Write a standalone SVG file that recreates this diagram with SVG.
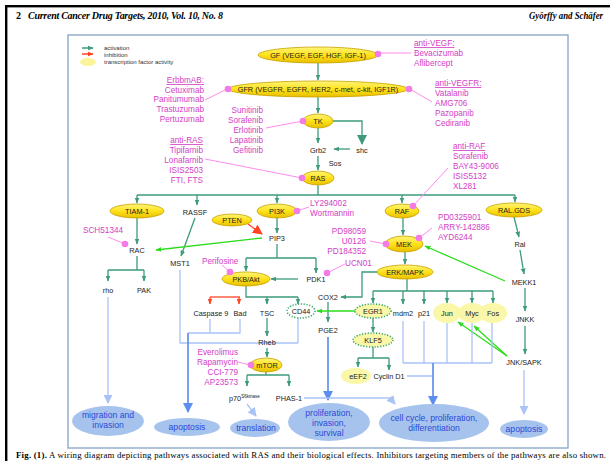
<svg xmlns="http://www.w3.org/2000/svg" width="610" height="461" viewBox="0 0 610 461">
<style>
.n{font-family:"Liberation Sans",Arial,sans-serif;font-size:7.3px;fill:#222;text-anchor:middle}
.p{font-family:"Liberation Sans",Arial,sans-serif;font-size:8.2px;fill:#d43ec6}
.e{text-anchor:end}
.u{text-decoration:underline}
.b{font-family:"Liberation Sans",Arial,sans-serif;font-size:8.6px;fill:#2b49d6;text-anchor:middle}
.y{fill:url(#yg);stroke:#c7a200;stroke-width:0.8}
.ly{fill:#fbf7a8;stroke:none}
.dt{stroke:#3aa86a;stroke-width:1.6;stroke-dasharray:1.2 1.6}
.g{fill:none;stroke:#3d9b7b;stroke-width:1.3}
.gb{fill:none;stroke:#2ddc1e;stroke-width:1.3}
.r{fill:none;stroke:#ff4422;stroke-width:1.3}
.pk{fill:none;stroke:#ff8cef;stroke-width:1}
.dot{fill:#f27be6}
.lb{fill:none;stroke:#a9c3f7;stroke-width:1.3}
.mb{fill:none;stroke:#6a96ee;stroke-width:1.8}
.oc{fill:#a6c3ee}
</style>
<defs>
<linearGradient id="yg" x1="0" y1="0" x2="0" y2="1">
<stop offset="0" stop-color="#fff57a"/><stop offset="0.5" stop-color="#ffe21a"/><stop offset="1" stop-color="#e8be00"/>
</linearGradient>
<marker id="ag" viewBox="0 0 10 10" refX="9" refY="5" markerWidth="6" markerHeight="6" markerUnits="userSpaceOnUse" orient="auto"><path d="M0,1 L10,5 L0,9 z" fill="#3d9b7b"/></marker>
<marker id="agL" viewBox="0 0 10 10" refX="9" refY="5" markerWidth="10" markerHeight="10" markerUnits="userSpaceOnUse" orient="auto"><path d="M0,0 L10,5 L0,10 z" fill="#3d9b7b"/></marker>
<marker id="ab" viewBox="0 0 10 10" refX="9" refY="5" markerWidth="6" markerHeight="6" markerUnits="userSpaceOnUse" orient="auto"><path d="M0,1 L10,5 L0,9 z" fill="#2ddc1e"/></marker>
<marker id="ar" viewBox="0 0 10 10" refX="9" refY="5" markerWidth="6" markerHeight="6" markerUnits="userSpaceOnUse" orient="auto"><path d="M0,1 L10,5 L0,9 z" fill="#ff4422"/></marker>
<marker id="arL" viewBox="0 0 10 10" refX="9" refY="5" markerWidth="10" markerHeight="10" markerUnits="userSpaceOnUse" orient="auto"><path d="M0,0 L10,5 L0,10 z" fill="#ff4422"/></marker>
<marker id="alb" viewBox="0 0 10 10" refX="9" refY="5" markerWidth="9" markerHeight="9" markerUnits="userSpaceOnUse" orient="auto"><path d="M0,0 L10,5 L0,10 z" fill="#a9c3f7"/></marker>
<marker id="amb" viewBox="0 0 10 10" refX="9" refY="5" markerWidth="10" markerHeight="10" markerUnits="userSpaceOnUse" orient="auto"><path d="M0,0 L10,5 L0,10 z" fill="#5b8ef0"/></marker>
</defs>
<rect width="610" height="461" fill="#fff"/>
<g id="page">
<rect x="5" y="5" width="605" height="2.4" fill="#000"/>
<rect x="5" y="5" width="2.4" height="456" fill="#000"/>
<text x="16" y="19" font-family="Liberation Serif,serif" font-weight="bold" font-size="10">2</text>
<text x="28" y="19" font-family="Liberation Serif,serif" font-weight="bold" font-style="italic" font-size="10" textLength="195">Current Cancer Drug Targets, 2010, Vol. 10, No. 8</text>
<text x="529" y="19" font-family="Liberation Serif,serif" font-weight="bold" font-style="italic" font-size="9.5" textLength="74" lengthAdjust="spacingAndGlyphs">Györffy and Schäfer</text>
<rect x="68" y="35" width="500" height="413" fill="none" stroke="#87a3c3" stroke-width="1.3"/>
<text x="16" y="458" font-family="Liberation Serif,serif" font-size="8.8" textLength="590"><tspan font-weight="bold">Fig. (1).</tspan> A wiring diagram depicting pathways associated with RAS and their biological effects. Inhibitors targeting members of the pathways are also shown.</text>
</g>
<g id="legend">
<path d="M82 48 H93" stroke="#3d9b7b" stroke-width="1.5" marker-end="url(#ag)"/>
<path d="M82 54 H93" stroke="#ff4422" stroke-width="1.5" marker-end="url(#ar)"/>
<ellipse cx="88" cy="62" rx="8" ry="4" fill="#fbf49a"/>
<text x="104" y="50" font-family="Liberation Sans,sans-serif" font-size="6" fill="#333">activation</text>
<text x="104" y="56.5" font-family="Liberation Sans,sans-serif" font-size="6" fill="#333">inhibition</text>
<text x="104" y="64" font-family="Liberation Sans,sans-serif" font-size="6" fill="#333">transcription factor activity</text>
</g>
<g id="connectors">
<path class="g" d="M318 63 V80" marker-end="url(#ag)"/>
<path class="g" d="M318 97 V113" marker-end="url(#ag)"/>
<path class="g" d="M318 128 V143" marker-end="url(#ag)"/>
<path class="g" d="M333 121 H362 V144" marker-end="url(#agL)"/>
<path class="g" d="M350 149 H334" marker-end="url(#ag)"/>
<path class="g" d="M318 156 V170" marker-end="url(#ag)"/>
<path class="g" d="M318 185 V195 M137 195 H515"/>
<path class="g" d="M137 195 V203" marker-end="url(#ag)"/>
<path class="g" d="M197 195 V205" marker-end="url(#ag)"/>
<path class="g" d="M277 195 V203" marker-end="url(#ag)"/>
<path class="g" d="M402 195 V203" marker-end="url(#ag)"/>
<path class="g" d="M515 195 V202" marker-end="url(#ag)"/>
<path class="g" d="M137 218 V244" marker-end="url(#ag)"/>
<path class="g" d="M195 218 L181 256" marker-end="url(#ag)"/>
<path class="g" d="M277 218 V233" marker-end="url(#ag)"/>
<path class="g" d="M137 256 V270 M108 270 H144"/>
<path class="g" d="M108 270 V281" marker-end="url(#ag)"/>
<path class="g" d="M144 270 V281" marker-end="url(#ag)"/>
<path class="g" d="M277 244 V258 M246 258 H316"/>
<path class="g" d="M246 258 V271" marker-end="url(#ag)"/>
<path class="g" d="M316 258 V273" marker-end="url(#ag)"/>
<path class="g" d="M298 279 H271" marker-end="url(#ag)"/>
<path class="g" d="M403 218 V235" marker-end="url(#ag)"/>
<path class="g" d="M405 252 V264" marker-end="url(#ag)"/>
<path class="g" d="M378 272 H362 V297 H341" marker-end="url(#ag)"/>
<path class="g" d="M407 279 V291 M373 291 H493"/>
<path class="g" d="M373 291 V303" marker-end="url(#ag)"/>
<path class="g" d="M403 291 V304" marker-end="url(#ag)"/>
<path class="g" d="M424 291 V304" marker-end="url(#ag)"/>
<path class="g" d="M447 291 V303" marker-end="url(#ag)"/>
<path class="g" d="M472 291 V303" marker-end="url(#ag)"/>
<path class="g" d="M493 291 V303" marker-end="url(#ag)"/>
<path class="g" d="M246 286 V297 H298"/>
<path class="r" d="M240 297 H210"/>
<path class="r" d="M210 297 V304" marker-end="url(#ar)"/>
<path class="r" d="M239 297 V304" marker-end="url(#ar)"/>
<path class="g" d="M267 297 V304" marker-end="url(#ag)"/>
<path class="g" d="M298 297 V304" marker-end="url(#ag)"/>
<path class="g" d="M328 302 V322" marker-end="url(#ag)"/>
<path class="gb" d="M355 311 H317" marker-end="url(#ab)"/>
<path class="g" d="M373 318 V332" marker-end="url(#ag)"/>
<path class="g" d="M373 347 V358 M358 358 H389"/>
<path class="g" d="M358 358 V367" marker-end="url(#ag)"/>
<path class="g" d="M389 358 V370" marker-end="url(#ag)"/>
<path class="g" d="M267 318 V336" marker-end="url(#ag)"/>
<path class="g" d="M267 348 V357" marker-end="url(#ag)"/>
<path class="g" d="M266 372 V375 M247 375 H289"/>
<path class="g" d="M247 375 V386" marker-end="url(#ag)"/>
<path class="g" d="M289 375 V386" marker-end="url(#ag)"/>
<path class="g" d="M514 217 L519 237" marker-end="url(#ag)"/>
<path class="g" d="M520 250 L524 274" marker-end="url(#ag)"/>
<path class="g" d="M525 288 V311" marker-end="url(#ag)"/>
<path class="g" d="M525 326 V354" marker-end="url(#ag)"/>
<path class="gb" d="M505 281 L425 246" marker-end="url(#ab)"/>
<path class="gb" d="M507 356 L458 322" marker-end="url(#ab)"/>
<path class="gb" d="M507 356 L474 326" marker-end="url(#ab)"/>
<path class="r" d="M248 224 L262 234" marker-end="url(#arL)"/>
<path class="gb" d="M262 238 L156 250" marker-end="url(#ab)"/>
<path class="pk" d="M380 53 H411 M410 89 L432 102 M227 89 L205 100 M303 121 L266 128 M302 178 L205 159 M297 211 L309 207 M413 206 L448 168 M386 244 L370 241 M419 238 L432 228 M125 244 L108 237 M230 272 L222 265 M327 273 L345 264 M250 365 L238 362"/>
<path class="lb" d="M108 297 V403" marker-end="url(#alb)"/>
<path class="lb" d="M180 270 V343 H298 M298 318 V343"/>
<path class="lb" d="M210 319 V333 H240 V319 M188 333 H210"/>
<path class="mb" d="M188 333 V412" marker-end="url(#amb)"/>
<path class="mb" d="M328 337 V400" marker-end="url(#amb)"/>
<path class="lb" d="M247 404 L256 416" marker-end="url(#alb)"/>
<path class="lb" d="M304 398 H390 L395 404" marker-end="url(#alb)"/>
<path class="lb" d="M403 321 V363 M424 321 V363 M447 323 V363 M472 323 V363 M492 323 V363 M403 363 H492 M407 376 H433"/>
<path class="mb" d="M433 363 V405" marker-end="url(#amb)"/>
<path class="lb" d="M524 370 V414" marker-end="url(#alb)"/>
</g>
<g id="GF"><ellipse class="y" cx="318" cy="55" rx="60" ry="8"/><text class="n" x="318" y="57.7">GF (VEGF, EGF, HGF, IGF-1)</text><circle class="dot" cx="378" cy="54" r="3.3"/></g>
<g id="GFR"><ellipse class="y" cx="318" cy="89" rx="90" ry="8"/><text class="n" x="318" y="91.7">GFR (VEGFR, EGFR, HER2, c-met, c-kit, IGF1R)</text><circle class="dot" cx="228" cy="89" r="3.3"/><circle class="dot" cx="409" cy="89" r="3.3"/></g>
<g id="TK"><ellipse class="y" cx="318" cy="121" rx="15" ry="7"/><text class="n" x="318" y="123.7">TK</text><circle class="dot" cx="303" cy="121" r="3.3"/></g>
<g id="Grb2"><text class="n" x="318" y="152.5">Grb2</text></g>
<g id="shc"><text class="n" x="362" y="152.5">shc</text></g>
<g id="Sos"><text class="n" x="335" y="165.5">Sos</text></g>
<g id="RAS"><ellipse class="y" cx="318" cy="178" rx="16" ry="7"/><text class="n" x="318" y="180.7">RAS</text><circle class="dot" cx="302" cy="178" r="3.3"/></g>
<g id="TIAM-1"><ellipse class="y" cx="137" cy="211" rx="27" ry="7"/><text class="n" x="137" y="213.7">TIAM-1</text></g>
<g id="RASSF"><text class="n" x="195" y="214.5">RASSF</text></g>
<g id="PI3K"><ellipse class="y" cx="277" cy="211" rx="20" ry="7"/><text class="n" x="277" y="213.7">PI3K</text><circle class="dot" cx="297" cy="211" r="3.3"/></g>
<g id="RAF"><ellipse class="y" cx="402" cy="211" rx="17" ry="7"/><text class="n" x="402" y="213.7">RAF</text><circle class="dot" cx="413" cy="206" r="3.3"/></g>
<g id="RAL.GDS"><ellipse class="y" cx="514" cy="210" rx="28" ry="7"/><text class="n" x="514" y="212.7">RAL.GDS</text></g>
<g id="PTEN"><ellipse class="y" cx="232" cy="220" rx="20" ry="6"/><text class="n" x="232" y="222.7">PTEN</text></g>
<g id="PIP3"><text class="n" x="277" y="241">PIP3</text></g>
<g id="RAC"><text class="n" x="137" y="252.5">RAC</text><circle class="dot" cx="125" cy="244" r="3.3"/></g>
<g id="rho"><text class="n" x="108" y="292.5">rho</text></g>
<g id="PAK"><text class="n" x="144" y="292.5">PAK</text></g>
<g id="MST1"><text class="n" x="180" y="266">MST1</text></g>
<g id="PKB"><ellipse class="y" cx="246" cy="279" rx="24" ry="7"/><text class="n" x="246" y="281.7">PKB/Akt</text><circle class="dot" cx="230" cy="272" r="3.3"/></g>
<g id="PDK1"><text class="n" x="316" y="281.5">PDK1</text><circle class="dot" cx="327" cy="273" r="3.3"/></g>
<g id="MEK"><ellipse class="y" cx="404" cy="244" rx="19" ry="8"/><text class="n" x="404" y="246.7">MEK</text><circle class="dot" cx="386" cy="244" r="3.3"/><circle class="dot" cx="419" cy="238" r="3.3"/></g>
<g id="ERK"><ellipse class="y" cx="405" cy="272" rx="28" ry="7"/><text class="n" x="405" y="274.7">ERK/MAPK</text></g>
<g id="COX2"><text class="n" x="328" y="299.5">COX2</text></g>
<g id="Caspase9"><text class="n" x="211" y="315.5">Caspase 9</text></g>
<g id="Bad"><text class="n" x="240" y="315.5">Bad</text></g>
<g id="TSC"><text class="n" x="267" y="315.5">TSC</text></g>
<g id="CD44"><ellipse class="dt" fill="#fff" cx="301" cy="311" rx="14" ry="7"/><text class="n" x="301" y="313.6">CD44</text></g>
<g id="EGR1"><ellipse class="dt" fill="#fbf7a8" cx="373" cy="311" rx="18" ry="7"/><text class="n" x="373" y="313.6">EGR1</text></g>
<g id="mdm2"><text class="n" x="403" y="315.5">mdm2</text></g>
<g id="p21"><text class="n" x="424" y="315.5">p21</text></g>
<g id="Jun"><ellipse class="ly" cx="447" cy="313" rx="14" ry="10"/></g>
<g id="Myc"><ellipse class="ly" cx="472" cy="313" rx="14" ry="10"/></g>
<g id="Fos"><ellipse class="ly" cx="493" cy="313" rx="14" ry="10"/><text class="n" x="447" y="315.6">Jun</text><text class="n" x="472" y="315.6">Myc</text><text class="n" x="493" y="315.6">Fos</text></g>
<g id="PGE2"><text class="n" x="328" y="332.5">PGE2</text></g>
<g id="KLF5"><ellipse class="dt" fill="#fbf7a8" cx="373" cy="340" rx="20" ry="7"/><text class="n" x="373" y="342.6">KLF5</text></g>
<g id="Rheb"><text class="n" x="267" y="345">Rheb</text></g>
<g id="mTOR"><ellipse class="y" cx="266" cy="365" rx="16" ry="7"/><text class="n" x="267" y="367.7">mTOR</text><circle class="dot" cx="251" cy="365" r="3.3"/></g>
<g id="eEF2"><ellipse class="ly" cx="356" cy="376" rx="15" ry="8"/><text class="n" x="358" y="378.5">eEF2</text></g>
<g id="CyclinD1"><text class="n" x="389" y="378.5">Cyclin D1</text></g>
<g id="p70"><text class="n" x="229" y="400.5" style="text-anchor:start">p70<tspan font-size="4.5" dy="-3">S6kinase</tspan></text></g>
<g id="PHAS-1"><text class="n" x="289" y="400.5">PHAS-1</text></g>
<g id="Ral"><text class="n" x="520" y="246.5">Ral</text></g>
<g id="MEKK1"><text class="n" x="524" y="284.5">MEKK1</text></g>
<g id="JNKK"><text class="n" x="525" y="321.5">JNKK</text></g>
<g id="JNK"><text class="n" x="524" y="364.5">JNK/SAPK</text></g>
<g id="out-migration"><ellipse class="oc" cx="108" cy="421" rx="36" ry="15"/><text class="b" x="108" y="418">migration and</text><text class="b" x="108" y="428">invasion</text></g>
<g id="out-apoptosis1"><ellipse class="oc" cx="187" cy="427" rx="33" ry="9"/><text class="b" x="187" y="430">apoptosis</text></g>
<g id="out-translation"><ellipse class="oc" cx="255" cy="428" rx="25" ry="9"/><text class="b" x="256" y="431">translation</text></g>
<g id="out-prolif"><ellipse class="oc" cx="329" cy="422" rx="41" ry="19"/><text class="b" x="329" y="416">proliferation,</text><text class="b" x="329" y="426">invasion,</text><text class="b" x="329" y="436">survival</text></g>
<g id="out-cellcycle"><ellipse class="oc" cx="434" cy="423" rx="55" ry="19"/><text class="b" x="434" y="420.5">cell cycle, proliferation,</text><text class="b" x="434" y="430.5">differentiation</text></g>
<g id="out-apoptosis2"><ellipse class="oc" cx="524" cy="429" rx="24" ry="9"/><text class="b" x="524" y="432">apoptosis</text></g>
<g id="inhibitors">
<text class="p" x="414" y="46"><tspan class="u">anti-VEGF:</tspan></text>
<text class="p" x="414" y="56">Bevacizumab</text>
<text class="p" x="414" y="65.5">Aflibercept</text>
<text class="p" x="435" y="86"><tspan class="u">anti-VEGFR:</tspan></text>
<text class="p" x="435" y="96">Vatalanib</text>
<text class="p" x="435" y="106">AMG706</text>
<text class="p" x="435" y="116">Pazopanib</text>
<text class="p" x="435" y="126">Cediranib</text>
<text class="p e" x="204" y="83"><tspan class="u">ErbbmAB:</tspan></text>
<text class="p e" x="204" y="92.5">Cetuximab</text>
<text class="p e" x="204" y="102">Panitumumab</text>
<text class="p e" x="204" y="112">Trastuzumab</text>
<text class="p e" x="204" y="121.5">Pertuzumab</text>
<text class="p e" x="263" y="113">Sunitinib</text>
<text class="p e" x="263" y="123">Sorafenib</text>
<text class="p e" x="263" y="133">Erlotinib</text>
<text class="p e" x="263" y="143">Lapatinib</text>
<text class="p e" x="263" y="153">Gefitinib</text>
<text class="p e" x="203" y="143"><tspan class="u">anti-RAS</tspan></text>
<text class="p e" x="203" y="153">Tipifarnib</text>
<text class="p e" x="203" y="163">Lonafarnib</text>
<text class="p e" x="203" y="173">ISIS2503</text>
<text class="p e" x="203" y="183">FTI, FTS</text>
<text class="p" x="453" y="149"><tspan class="u">anti-RAF</tspan></text>
<text class="p" x="453" y="159">Sorafenib</text>
<text class="p" x="453" y="169">BAY43-9006</text>
<text class="p" x="453" y="179">ISIS5132</text>
<text class="p" x="453" y="189">XL281</text>
<text class="p" x="310" y="206">LY294002</text>
<text class="p" x="310" y="216">Wortmannin</text>
<text class="p" x="438" y="220">PD0325901</text>
<text class="p" x="438" y="230">ARRY-142886</text>
<text class="p" x="438" y="240">AYD6244</text>
<text class="p e" x="366" y="234">PD98059</text>
<text class="p e" x="366" y="244">U0126</text>
<text class="p e" x="366" y="254">PD184352</text>
<text class="p" x="83" y="233">SCH51344</text>
<text class="p" x="202" y="264">Perifosine</text>
<text class="p" x="345" y="266">UCN01</text>
<text class="p e" x="238" y="355">Everolimus</text>
<text class="p e" x="238" y="365">Rapamycin</text>
<text class="p e" x="238" y="375">CCI-779</text>
<text class="p e" x="238" y="385">AP23573</text>
</g>
</svg>
